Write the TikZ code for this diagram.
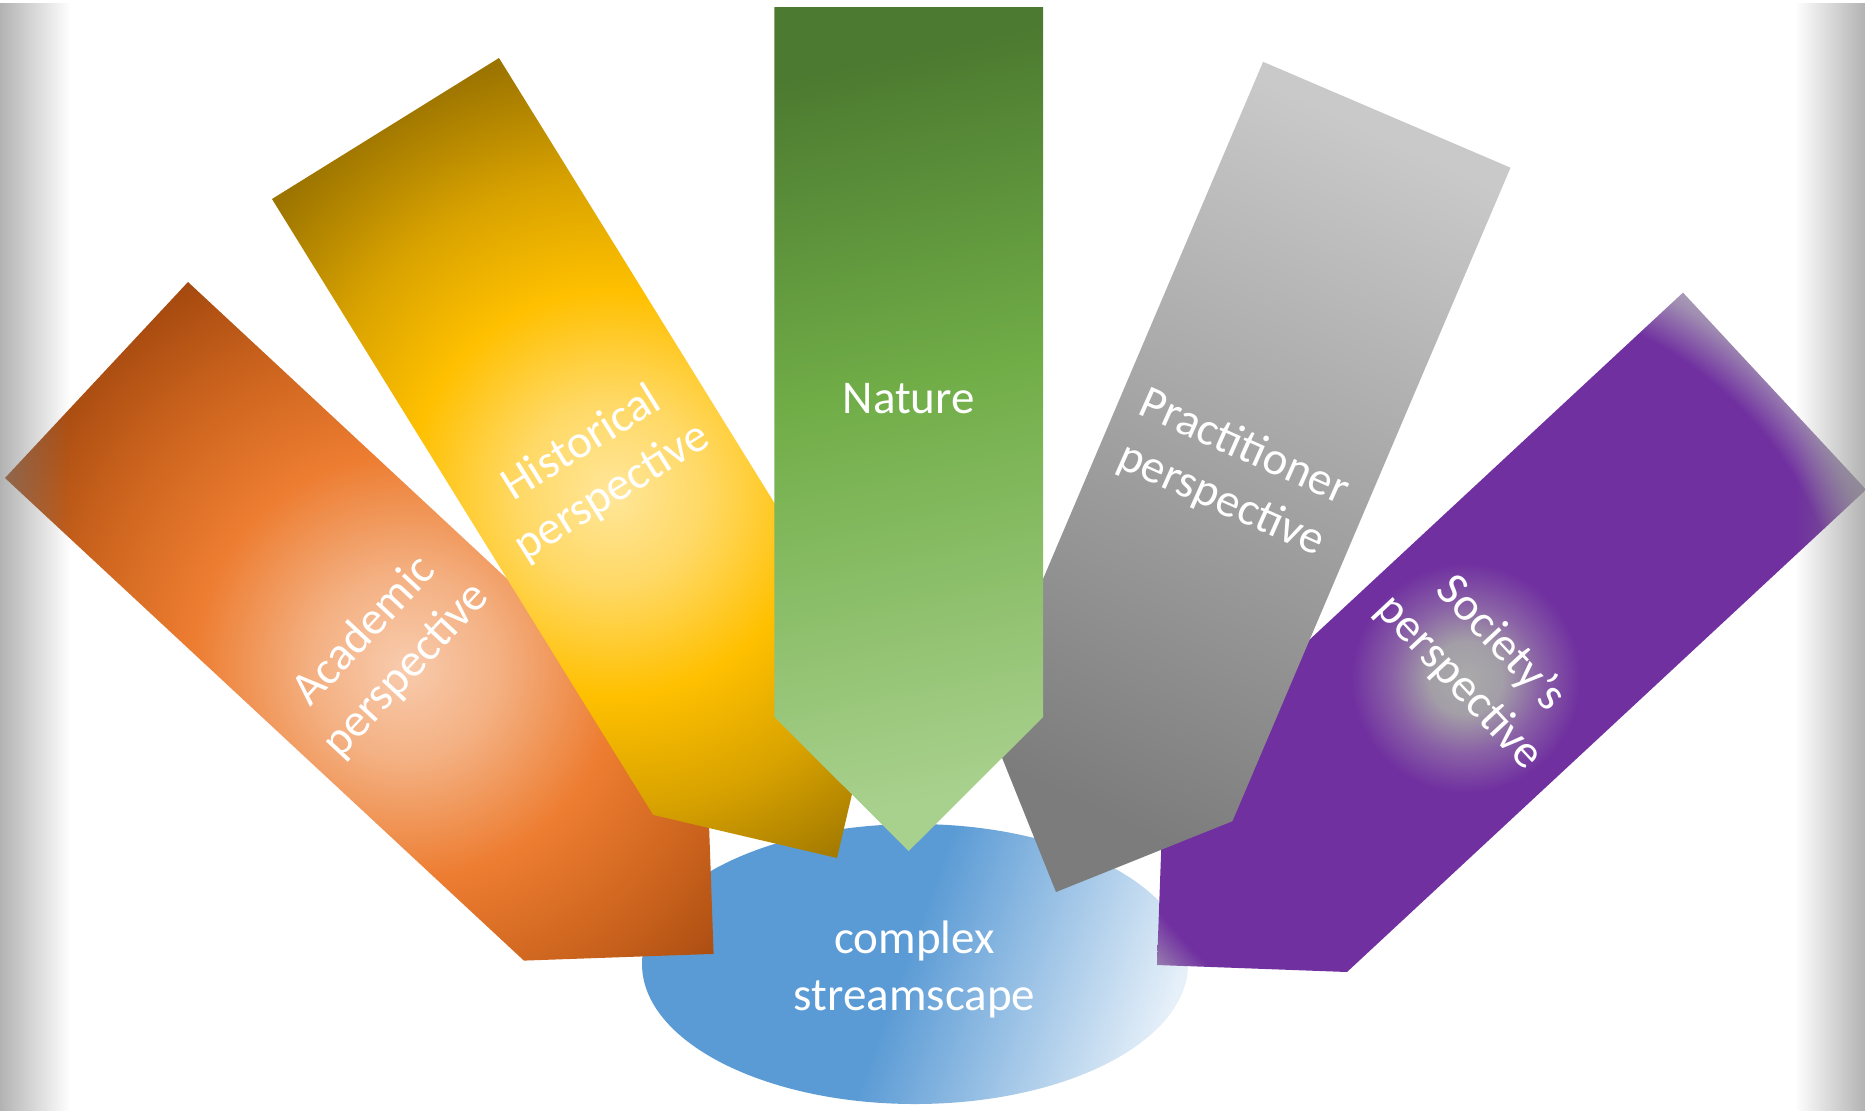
\documentclass[tikz,border=0pt]{standalone}
\usepackage{fontspec}
\setmainfont{Carlito}
\usetikzlibrary{fadings}

% palette
\definecolor{orA}{HTML}{F8CBAD}
\definecolor{orB}{HTML}{F4B183}
\definecolor{orC}{HTML}{ED7D31}
\definecolor{orD}{HTML}{CF661F}
\definecolor{orE}{HTML}{A5490F}
\definecolor{yeA}{HTML}{FFE699}
\definecolor{yeB}{HTML}{FFD966}
\definecolor{yeC}{HTML}{FFC000}
\definecolor{yeD}{HTML}{D9A300}
\definecolor{yeE}{HTML}{9C7400}
\definecolor{puA}{HTML}{AAAAAA}
\definecolor{puB}{HTML}{A39EA7}
\definecolor{puC}{HTML}{8A62A6}
\definecolor{puD}{HTML}{7030A0}
\definecolor{puE}{HTML}{A08DB2}
\definecolor{puF}{HTML}{B3AEB8}
\definecolor{grTop}{HTML}{C9C9C9}
\definecolor{grBot}{HTML}{7C7C7C}
\definecolor{gnTop}{HTML}{4C7A30}
\definecolor{gnMid}{HTML}{70AD47}
\definecolor{gnBot}{HTML}{A9D18E}
\definecolor{blA}{HTML}{5B9BD5}
\definecolor{blB}{HTML}{E6F0F9}

% glows centred in the arrow bodies; on a 920px square, 1bp of radius = 18.4px
\pgfdeclareradialshading{orangeglow}{\pgfpointorigin}{%
  color(0bp)=(orA); color(5bp)=(orB); color(11.5bp)=(orC);
  color(17.5bp)=(orD); color(24bp)=(orE); color(72bp)=(orE)}
\pgfdeclareradialshading{yellowglow}{\pgfpointorigin}{%
  color(0bp)=(yeA); color(5bp)=(yeB); color(11bp)=(yeC);
  color(17bp)=(yeD); color(24bp)=(yeE); color(72bp)=(yeE)}
\pgfdeclareradialshading{purpleglow}{\pgfpointorigin}{%
  color(0bp)=(puA); color(2bp)=(puB); color(4bp)=(puC); color(6.25bp)=(puD);
  color(20.9bp)=(puD); color(23.35bp)=(puE); color(25bp)=(puF); color(72bp)=(puF)}
% linear fills: the shaded path spans 25bp..75bp
\pgfdeclarehorizontalshading{poolfade}{100bp}{%
  color(0bp)=(blA); color(49bp)=(blA); color(77bp)=(blB); color(100bp)=(blB)}
\pgfdeclareverticalshading{naturefade}{100bp}{%
  color(0bp)=(gnBot); color(25bp)=(gnBot); color(53bp)=(gnMid);
  color(75bp)=(gnTop); color(100bp)=(gnTop)}

\tikzfading[name=edgeleft, left color=transparent!40, right color=transparent!100]
\tikzfading[name=edgeright, left color=transparent!100, right color=transparent!40]

\begin{document}
\begin{tikzpicture}[x=1bp,y=-1bp,
  arrowtext/.style={text=white, font=\fontsize{47bp}{57bp}\selectfont,
    align=center, inner sep=0pt}]
\useasboundingbox (0,0) rectangle (1865,1110);
\fill[white] (0,0) rectangle (1865,1110);

% arrow outlines
\coordinate (o1) at (188,282);    \coordinate (o2) at (706.9,764.6);
\coordinate (o3) at (713.6,953.9); \coordinate (o4) at (523.9,960.6);
\coordinate (o5) at (5,478);
\coordinate (y1) at (499,58);     \coordinate (y2) at (880.2,673.9);
\coordinate (y3) at (837,858);    \coordinate (y4) at (653.2,814.9);
\coordinate (y5) at (272,199);
\coordinate (g1) at (774.3,7);    \coordinate (g2) at (774.3,717);
\coordinate (g3) at (908.7,851);  \coordinate (g4) at (1043.1,717);
\coordinate (g5) at (1043.1,7);
\coordinate (s1) at (1263.1,61.8); \coordinate (s2) at (985,715.3);
\coordinate (s3) at (1056,892);    \coordinate (s4) at (1232.4,821.2);
\coordinate (s5) at (1510.5,167.7);
\coordinate (p1) at (1683,292.6);  \coordinate (p2) at (1163.9,775);
\coordinate (p3) at (1157,965);    \coordinate (p4) at (1347,972);
\coordinate (p5) at (1866.1,489.6);

\begin{scope}
\clip (0,0) rectangle (1865,1110);

% the stream pool
\shade[shading=poolfade, shading angle=-20] (915,964) ellipse [x radius=273, y radius=140];
\node[arrowtext] (stream) at (914.6,969) {complex\\streamscape};

% academic
\begin{scope}
  \clip (o1) -- (o2) -- (o3) -- (o4) -- (o5) -- cycle;
  \shade[shading=orangeglow] (-55,207) rectangle (865,1127);
\end{scope}
\node[arrowtext, rotate=47] (academic) at (385.5,651) {Academic\\perspective};

% historical
\begin{scope}
  \clip (y1) -- (y2) -- (y3) -- (y4) -- (y5) -- cycle;
  \shade[shading=yellowglow] (151.3,33.2) rectangle (1071.3,953.2);
\end{scope}
\node[arrowtext, rotate=32] (historical) at (597,468) {Historical\\perspective};

% society
\begin{scope}
  \clip (p1) -- (p2) -- (p3) -- (p4) -- (p5) -- cycle;
  \shade[shading=purpleglow] (1005.8,218.1) rectangle (1925.8,1138.1);
\end{scope}
\node[arrowtext, rotate=-47] (society) at (1480,663) {Society’s\\perspective};

% practitioner
\shade[top color=grTop, bottom color=grBot, shading angle=-25]
  (s1) -- (s2) -- (s3) -- (s4) -- (s5) -- cycle;
\node[arrowtext, rotate=-24] (practitioner) at (1232.5,474) {Practitioner\\perspective};

% nature
\shade[shading=naturefade, shading angle=12]
  (g1) -- (g2) -- (g3) -- (g4) -- (g5) -- cycle;
\node[arrowtext, anchor=base] (nature) at (908.7,413) {Nature};

% soft grey side bands
\fill[black!50, path fading=edgeleft] (0,0) rectangle (70,1110);
\fill[black!50, path fading=edgeright] (1795,0) rectangle (1865,1110);
\end{scope}
\end{tikzpicture}
\end{document}
